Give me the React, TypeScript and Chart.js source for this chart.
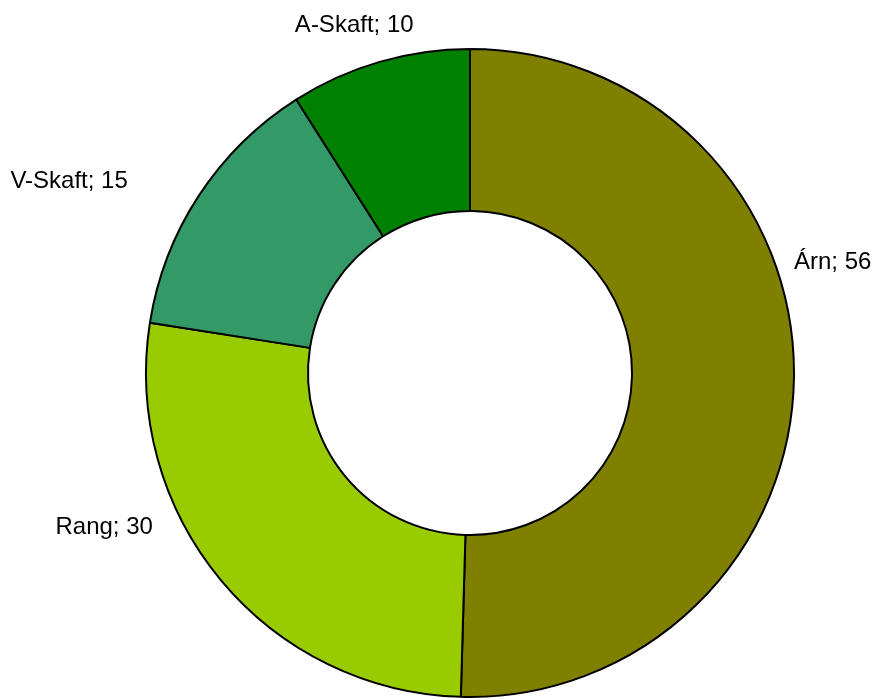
import React, { useEffect, useRef } from "react";
import { Chart, registerables } from "chart.js";

Chart.register(...registerables);

const categories = ["Árn", "Rang", "V-Skaft", "A-Skaft"];
const values = [56, 30, 15, 10];
const colors = ["#808000", "#99CC00", "#339966", "#008000"];

// label placement: angle (deg, clockwise from top) and distance as a factor of outer radius
const labelAngles = [71.1, 244.0, 299.2, 341.6];
const labelDist = [1.057, 1.089, 1.21, 1.132];

const labelPlugin = {
  id: "outerLabels",
  afterDatasetsDraw(chart: any) {
    const ctx = chart.ctx;
    const meta = chart.getDatasetMeta(0);
    ctx.save();
    ctx.font = "24px 'Liberation Sans', Arial, sans-serif";
    ctx.fillStyle = "#000";
    ctx.textBaseline = "middle";
    meta.data.forEach((arc: any, i: number) => {
      const { x, y, outerRadius } = arc.getProps(["x", "y", "outerRadius"], true);
      const a = (labelAngles[i] * Math.PI) / 180;
      const r = outerRadius * labelDist[i];
      const lx = x + Math.sin(a) * r;
      const ly = y - Math.cos(a) * r;
      const s = Math.sin(a);
      ctx.textAlign = Math.abs(s) < 0.4 ? "center" : s > 0 ? "left" : "right";
      ctx.fillText(`${categories[i]}; ${values[i]}`, lx, ly);
    });
    ctx.restore();
  },
};

export default function App() {
  const ref = useRef<HTMLCanvasElement | null>(null);
  useEffect(() => {
    if (!ref.current) return;
    const chart = new Chart(ref.current, {
      type: "doughnut",
      data: {
        labels: categories,
        datasets: [
          {
            data: values,
            backgroundColor: colors,
            borderColor: "#000000",
            borderWidth: 2,
          },
        ],
      },
      options: {
        responsive: false,
        animation: false,
        cutout: "50%",
        layout: { padding: { top: 48, bottom: 0, left: 145, right: 79 } },
        plugins: {
          legend: { display: false },
          tooltip: { enabled: false },
        },
      },
      plugins: [labelPlugin],
    });
    return () => chart.destroy();
  }, []);
  return (
    <div style={{ position: "fixed", left: 0, top: 0, width: 874, height: 698, background: "#fff" }}>
      <canvas ref={ref} width={874} height={698} style={{ display: "block" }} />
    </div>
  );
}
